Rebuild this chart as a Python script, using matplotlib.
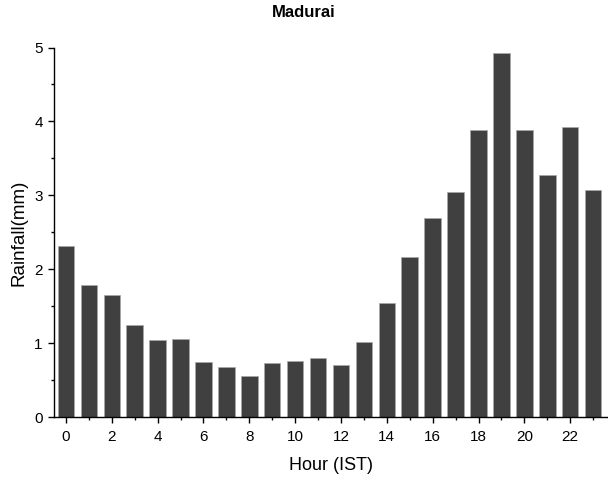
import numpy as np
import matplotlib.pyplot as plt
from matplotlib.ticker import MultipleLocator

# hourly mean rainfall at Madurai
hours = np.arange(24)
rain = [2.32, 1.79, 1.65, 1.24, 1.05, 1.06, 0.75, 0.68, 0.55, 0.73, 0.76, 0.80,
        0.71, 1.02, 1.55, 2.16, 2.69, 3.04, 3.89, 4.93, 3.88, 3.27, 3.92, 3.07]

plt.rcParams['font.family'] = ['Liberation Sans', 'DejaVu Sans']

fig = plt.figure(figsize=(6.08, 4.8), dpi=100)
ax = fig.add_axes([0.0896, 0.131, 0.9104, 0.770])

ax.bar(hours, rain, width=0.72, color='#404040', edgecolor='#a8a8a8', linewidth=0.5)

ax.set_xlim(-0.5, 23.65)
ax.set_ylim(0, 5)
ax.xaxis.set_major_locator(MultipleLocator(2))
ax.xaxis.set_minor_locator(MultipleLocator(1))
ax.yaxis.set_major_locator(MultipleLocator(1))
ax.yaxis.set_minor_locator(MultipleLocator(0.5))
ax.tick_params(which='major', direction='out', length=4.5, width=1, labelsize=11)
ax.tick_params(axis='y', which='major', pad=4)
ax.tick_params(axis='x', which='major', pad=5)
ax.tick_params(which='minor', direction='out', length=2.5, width=1)

for s in ['top', 'right']:
    ax.spines[s].set_visible(False)
for s in ['left', 'bottom']:
    ax.spines[s].set_linewidth(1)

ax.set_xlabel('Hour (IST)', fontsize=13, labelpad=9)
ax.set_ylabel('Rainfall(mm)', fontsize=13.5, labelpad=5)
fig.text(0.5, 0.973, 'Madurai', ha='center', va='center', fontsize=12, fontweight='bold')

plt.savefig('out.png', dpi=100)
